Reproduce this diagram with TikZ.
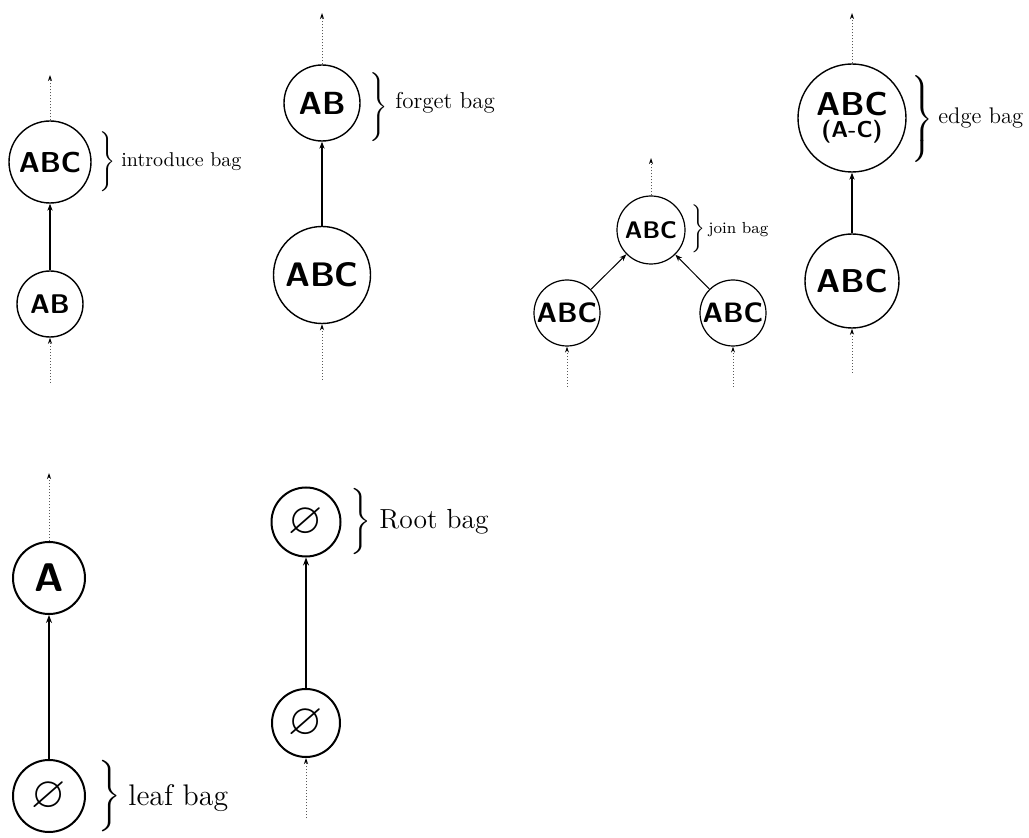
\documentclass[tikz,border=0pt]{standalone}
\usepackage{amsmath,amssymb}
\usetikzlibrary{arrows.meta}
\delimitershortfall=0pt
\delimiterfactor=1000
\newcommand{\sz}[1]{\fontsize{#1}{#1}\selectfont}
\newcommand{\bagbrace}[1]{$\left.\vrule height #1 depth #1 width 0pt\right\}$}

\begin{document}
\begin{tikzpicture}[x=0.5pt,y=0.5pt,>={Stealth[length=3.5pt,width=2.6pt]},
  bag/.style={circle,draw,inner sep=0pt,line width=0.7pt,font=\sffamily\bfseries},
  link/.style={->,line width=0.6pt},
  stub/.style={-{Stealth[length=3pt,width=2pt,black]},densely dotted,black!65,line width=0.5pt},
  note/.style={anchor=west,inner sep=0pt}]
  \useasboundingbox (0,0) rectangle (1029,837);
  % introduce bag
  \node[bag,minimum size=41pt,font=\sffamily\bfseries\sz{14.4}] (introabc) at (50,675) {ABC};
  \node[bag,minimum size=33pt,font=\sffamily\bfseries\sz{13.5}] (introab) at (50,533) {AB};
  \coordinate (introtop) at (50,762);
  \coordinate (introin) at (50,454);
  \draw[link] (introab) -- (introabc);
  \draw[stub] (introabc) -- (introtop);
  \draw[stub] (introin) -- (introab);
  \node[inner sep=0pt,font=\sz{10}] (introbrace) at (106,675) {\bagbrace{11pt}};
  \node[note,font=\sz{10}] (introtext) at (121,675) {introduce bag};
  % forget bag
  \node[bag,minimum size=38pt,font=\sffamily\bfseries\sz{16}] (forgetab) at (322,734) {AB};
  \node[bag,minimum size=48.5pt,font=\sffamily\bfseries\sz{17}] (forgetabc) at (322,562) {ABC};
  \coordinate (forgettop) at (322,824);
  \coordinate (forgetin) at (322,457);
  \draw[link] (forgetabc) -- (forgetab);
  \draw[stub] (forgetab) -- (forgettop);
  \draw[stub] (forgetin) -- (forgetabc);
  \node[inner sep=0pt,font=\sz{11.5}] (forgetbrace) at (378,730) {\bagbrace{12.5pt}};
  \node[note,font=\sz{11.5}] (forgettext) at (395,734) {forget bag};
  % join bag
  \node[bag,minimum size=34pt,line width=0.6pt,font=\sffamily\bfseries\sz{12}] (jointop) at (651,607) {ABC};
  \node[bag,minimum size=33pt,line width=0.6pt,font=\sffamily\bfseries\sz{14}] (joinleft) at (567,524) {ABC};
  \node[bag,minimum size=33pt,line width=0.6pt,font=\sffamily\bfseries\sz{14}] (joinright) at (733,524) {ABC};
  \coordinate (jointopend) at (651,679);
  \coordinate (joinleftin) at (567,450);
  \coordinate (joinrightin) at (733,450);
  \draw[link,line width=0.5pt] (joinleft) -- (jointop);
  \draw[link,line width=0.5pt] (joinright) -- (jointop);
  \draw[stub] (jointop) -- (jointopend);
  \draw[stub] (joinleftin) -- (joinleft);
  \draw[stub] (joinrightin) -- (joinright);
  \node[inner sep=0pt,font=\sz{8}] (joinbrace) at (697,608) {\bagbrace{9pt}};
  \node[note,font=\sz{8}] (jointext) at (708,607) {join bag};
  % edge bag
  \node[bag,minimum size=54pt,align=center,font=\sffamily\bfseries\fontsize{16.5}{10}\selectfont] (edgetop) at (852,719) {ABC\\[1pt]{\sz{11.5}(A-C)}};
  \node[bag,minimum size=47pt,font=\sffamily\bfseries\sz{16.5}] (edgebot) at (852,556) {ABC};
  \coordinate (edgetopend) at (852,824);
  \coordinate (edgein) at (852,464);
  \draw[link] (edgebot) -- (edgetop);
  \draw[stub] (edgetop) -- (edgetopend);
  \draw[stub] (edgein) -- (edgebot);
  \node[inner sep=0pt,font=\sz{12.2}] (edgebrace) at (921,718) {\bagbrace{16pt}};
  \node[note,font=\sz{11.3}] (edgetext) at (938,719) {edge bag};
  % leaf bag
  \node[bag,minimum size=36pt,line width=1pt,font=\sffamily\bfseries\sz{20}] (leafa) at (49,259) {A};
  \node[bag,minimum size=36pt,line width=1pt,font=\sz{22}] (leafnone) at (49,41) {$\varnothing$};
  \coordinate (leaftop) at (49,364);
  \draw[link,line width=1pt,>={Stealth[length=4pt,width=3pt]}] (leafnone) -- (leafa);
  \draw[stub] (leafa) -- (leaftop);
  \node[inner sep=0pt,font=\sz{14.9}] (leafbrace) at (108,41) {\bagbrace{13.5pt}};
  \node[note,font=\sz{14.9}] (leaftext) at (128,39) {leaf bag};
  % root bag
  \node[bag,minimum size=34.5pt,line width=1pt,font=\sz{22}] (roottop) at (306,315) {$\varnothing$};
  \node[bag,minimum size=34pt,line width=1pt,font=\sz{22}] (rootbot) at (306,114) {$\varnothing$};
  \coordinate (rootin) at (306,19);
  \draw[link,line width=1pt,>={Stealth[length=4pt,width=3pt]}] (rootbot) -- (roottop);
  \draw[stub] (rootin) -- (rootbot);
  \node[inner sep=0pt,font=\sz{13.8}] (rootbrace) at (360,315) {\bagbrace{11.5pt}};
  \node[note,font=\sz{13.8}] (roottext) at (379,315) {Root bag};
\end{tikzpicture}
\end{document}
